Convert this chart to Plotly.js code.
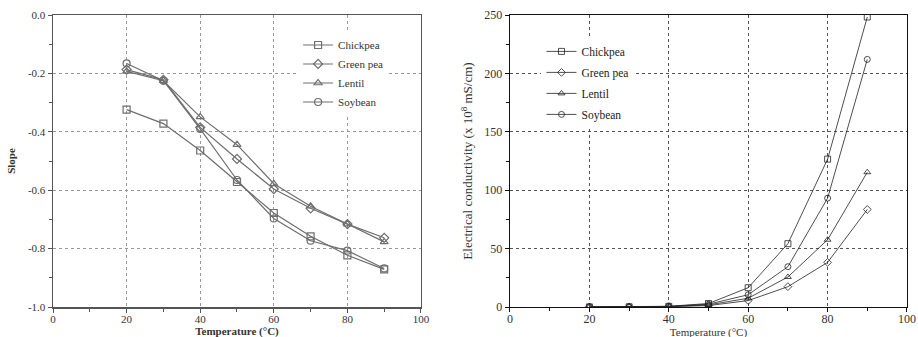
<!DOCTYPE html>
<html><head><meta charset="utf-8">
<script src="https://cdn.plot.ly/plotly-3.0.1.min.js"></script>
<style>html,body{margin:0;padding:0;background:#fff;overflow:hidden}#c{width:918px;height:345px}</style>
</head><body><div id="c"></div>
<script>
const temps = [20, 30, 40, 50, 60, 70, 80, 90];
const seriesNames = ["Chickpea", "Green pea", "Lentil", "Soybean"];
// Left: slope
const slopeChickpea = [-0.324, -0.372, -0.464, -0.572, -0.678, -0.758, -0.823, -0.871];
const slopeGreenpea = [-0.187, -0.222, -0.385, -0.493, -0.596, -0.662, -0.716, -0.763];
const slopeLentil   = [-0.193, -0.225, -0.349, -0.444, -0.578, -0.655, -0.716, -0.777];
const slopeSoybean  = [-0.166, -0.225, -0.390, -0.565, -0.697, -0.773, -0.807, -0.868];
// Right: electrical conductivity (x 10^8 mS/cm)
const ecChickpea = [0.1, 0.2, 0.6, 3.0, 16.5, 54.2, 126.6, 248.3];
const ecGreenpea = [0.1, 0.1, 0.3, 1.2, 5.5, 17.4, 38.2, 83.5];
const ecLentil   = [0.1, 0.1, 0.4, 1.8, 7.5, 25.7, 57.6, 115.4];
const ecSoybean  = [0.1, 0.2, 0.5, 2.4, 10.5, 34.5, 93.2, 212.0];
const slopeTickVals = [0, -0.2, -0.4, -0.6, -0.8, -1.0];
const slopeTickText = ["0.0", "-0.2", "-0.4", "-0.6", "-0.8", "-1.0"];
const symbols = ["square-open", "diamond-open", "triangle-up-open", "circle-open"];

const leftData = [slopeChickpea, slopeGreenpea, slopeLentil, slopeSoybean];
const rightData = [ecChickpea, ecGreenpea, ecLentil, ecSoybean];
const gray = "#6e6e6e", dark = "#222";
const traces = [];
leftData.forEach((ys, i) => traces.push({
  x: temps, y: ys, name: seriesNames[i], type: "scatter", mode: "lines+markers",
  xaxis: "x", yaxis: "y", legend: "legend", legendgroup: "L" + i,
  line: {color: gray, width: 1.2},
  marker: {symbol: symbols[i], size: 7, color: gray, line: {color: gray, width: 1.2}}
}));
rightData.forEach((ys, i) => traces.push({
  x: temps, y: ys, name: seriesNames[i], type: "scatter", mode: "lines+markers",
  xaxis: "x2", yaxis: "y2", legend: "legend2", legendgroup: "R" + i,
  line: {color: dark, width: 0.8},
  marker: {symbol: symbols[i], size: 6, color: dark, line: {color: dark, width: 0.8}}
}));

const fontL = {family: "Liberation Serif, Times New Roman, serif", size: 11, color: "#333"};
const fontR = {family: "Liberation Serif, Times New Roman, serif", size: 12, color: "#333"};
const common = {showline: true, mirror: true, ticks: "outside", ticklen: 4, zeroline: false,
  griddash: "dot", gridwidth: 1, automargin: false};

const layout = {
  width: 918, height: 345, margin: {l: 53, r: 11, t: 15, b: 38},
  paper_bgcolor: "#fff", plot_bgcolor: "#fff", showlegend: true,
  xaxis: Object.assign({}, common, {domain: [0, 0.4309], range: [0, 100], dtick: 20, tick0: 0,
    linecolor: "#555", linewidth: 1.5, gridcolor: "#999", tickcolor: "#555", tickfont: fontL, ticklabelstandoff: -3,
    minor: {dtick: 10, ticks: "outside", ticklen: 3, tickcolor: "#555", showgrid: false},
    title: {text: "<b>Temperature (°C)</b>", font: fontL, standoff: 1}, anchor: "y"}),
  yaxis: Object.assign({}, common, {domain: [0, 1], range: [-1, 0], tickvals: slopeTickVals, ticktext: slopeTickText,
    linecolor: "#555", linewidth: 1.5, gridcolor: "#999", tickcolor: "#555", tickfont: fontL,
    minor: {dtick: 0.1, ticks: "outside", ticklen: 3, tickcolor: "#555", showgrid: false},
    title: {text: "<b>Slope</b>", font: fontL, standoff: 10}, anchor: "x"}),
  xaxis2: Object.assign({}, common, {domain: [0.5351, 1], range: [0, 100], dtick: 20, tick0: 0,
    linecolor: "#111", linewidth: 1.3, gridcolor: "#555", tickcolor: "#111", tickfont: fontR, ticklabelstandoff: -4,
    minor: {dtick: 10, ticks: "outside", ticklen: 3, tickcolor: "#111", showgrid: false},
    title: {text: "Temperature (°C)", font: {family: fontR.family, size: 11, color: "#333"}, standoff: 0}, anchor: "y2"}),
  yaxis2: Object.assign({}, common, {domain: [0, 1], range: [0, 250], dtick: 50, tick0: 0,
    linecolor: "#111", linewidth: 1.3, gridcolor: "#555", tickcolor: "#111", tickfont: fontR,
    minor: {dtick: 25, ticks: "outside", ticklen: 3, tickcolor: "#111", showgrid: false},
    title: {text: "Electrical conductivity (x 10<sup>8</sup> mS/cm)", font: {family: fontR.family, size: 13, color: "#333"}, standoff: 8}, anchor: "x2"}),
  legend: {x: 0.287, y: 0.947, xanchor: "left", yanchor: "top", bgcolor: "#fff", borderwidth: 0,
    font: {family: "Liberation Serif, serif", size: 11, color: "#333"}, tracegroupgap: 0, itemwidth: 30},
  legend2: {x: 0.572, y: 0.925, xanchor: "left", yanchor: "top", bgcolor: "#fff", borderwidth: 0,
    font: {family: "Liberation Serif, serif", size: 11.5, color: "#222"}, tracegroupgap: 2, itemwidth: 30}
};
Plotly.newPlot("c", traces, layout, {staticPlot: true, displayModeBar: false});
</script></body></html>
